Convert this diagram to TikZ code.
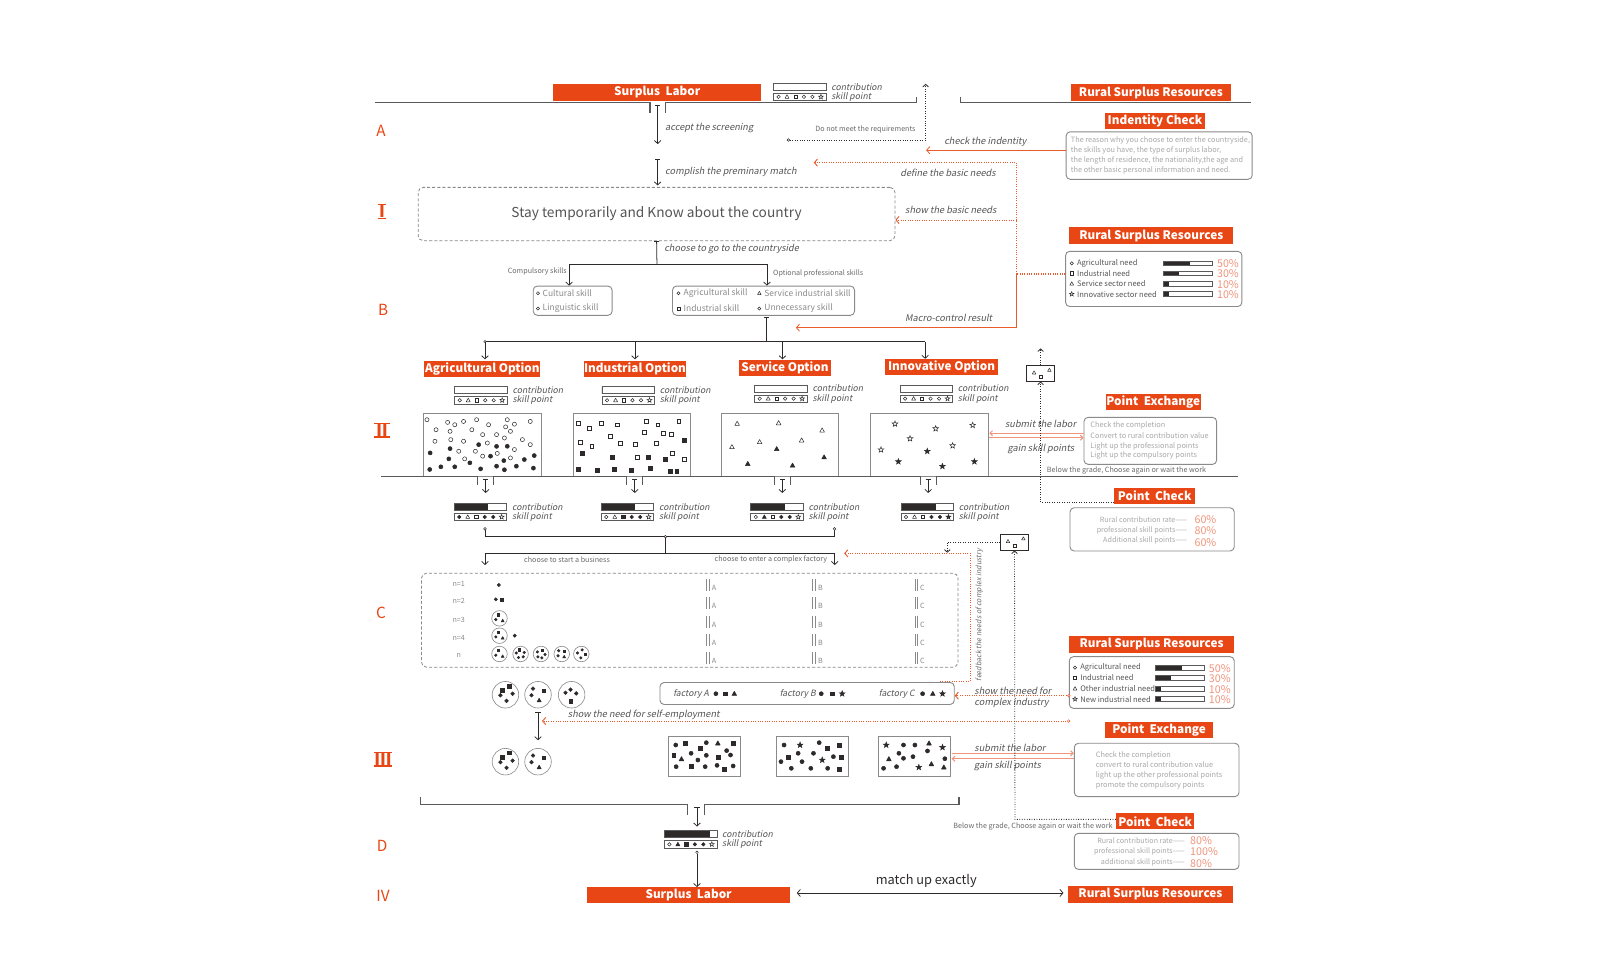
\documentclass[tikz,border=0pt]{standalone}
\usepackage{fontspec}
\setmainfont{Noto Sans CJK SC}[AutoFakeSlant=0.2]
\usetikzlibrary{arrows.meta,shapes.geometric}
\definecolor{orng}{HTML}{E84614}
\definecolor{oline}{HTML}{EA5A2A}
\definecolor{salm}{HTML}{F0957C}
\definecolor{dk}{HTML}{2E2A2A}
\definecolor{lgrey}{HTML}{5A5A5A}
\definecolor{bgrey}{HTML}{8A8A8A}
\definecolor{tmid}{HTML}{555555}
\definecolor{tgrey}{HTML}{A8A8A8}
\definecolor{tdk}{HTML}{6A6A6A}
\definecolor{tskill}{HTML}{8A8A8A}
\colorlet{fw}{white}
\colorlet{fk}{dk}
\newcommand\symr{1.9}
\newcommand\drawsym[4]{%
 \ifcase#1\relax
  \path[draw=dk,fill=#2,line width=0.5pt] (#3,#4) circle ({\symr});
 \or
  \path[draw=dk,fill=#2,line width=0.5pt,line join=round] ({#3-1.15*\symr},{#4+0.85*\symr}) -- ({#3+1.15*\symr},{#4+0.85*\symr}) -- (#3,{#4-1.2*\symr}) -- cycle;
 \or
  \path[draw=dk,fill=#2,line width=0.5pt] ({#3-0.95*\symr},{#4-0.95*\symr}) rectangle ({#3+0.95*\symr},{#4+0.95*\symr});
 \or
  \node[star,star points=5,star point ratio=2.4,inner sep=0pt,minimum size={2.9*\symr},draw=dk,fill=#2,line width=0.5pt] at (#3,#4) {};
 \fi}
\newcommand\legendbox[4]{%
 \fill[dk] (#1,#2) rectangle ++({51.5*#3},6.8);
 \draw[draw=lgrey,line width=0.8pt] (#1,#2) rectangle ++(51.5,6.8);
 \draw[draw=lgrey,line width=0.8pt] (#1,{#2+9.8}) rectangle ++(51.5,7.2);
 \begin{scope}\renewcommand\symr{1.7}
 \foreach \symT/\symF [count=\si] in {#4}{\pgfmathsetmacro\sx{#1+5+(\si-1)*8.3}\pgfmathsetmacro\sy{#2+13.4}\drawsym{\symT}{\symF}{\sx}{\sy}}
 \end{scope}
 \node[lgdt, anchor=west] at ({#1+56.5},{#2+3.4}) {contribution};
 \node[lgdt, anchor=west] at ({#1+56.5},{#2+13.4}) {skill point};
}
\newcommand\needrow[7]{%
 \begin{scope}\renewcommand\symr{1.6}\drawsym{#3}{fw}{#1}{#2}\end{scope}
 \node[needt, anchor=west] at ({#1+5},#2) {#4};
 \fill[dk] (#5,{#2-2.2}) rectangle ++({48*#6},4.4);
 \draw[draw=lgrey,line width=0.6pt] (#5,{#2-2.2}) rectangle ++(48,4.4);
 \node[pct, anchor=west] at ({#5+52},{#2+0.6}) {#7};
}
\newcommand\grp[4]{%
 \draw[bgrey, line width=0.6pt, fill=white] (#1,#2) circle (#3);
 \foreach \symT/\gx/\gy in {#4}{\pgfmathsetmacro\px{#1+\gx}\pgfmathsetmacro\py{#2+\gy}\drawsym{\symT}{fk}{\px}{\py}}}
\tikzset{
 olab/.style={fill=orng, text=white, font=\bfseries\fontsize{11.5}{12}\selectfont, inner sep=0pt},
 mline/.style={draw=lgrey, line width=1.3pt},
 kline/.style={draw=dk, line width=0.75pt},
 karr/.style={kline, -{Straight Barb[length=3pt,width=6.5pt]}},
 tarr/.style={kline, {Bar[width=5pt]}-{Straight Barb[length=3pt,width=6.5pt]}},
 kdot/.style={draw=dk, line width=0.8pt, dash pattern=on 0.8pt off 1.6pt, -{Straight Barb[length=2.5pt,width=5.5pt]}},
 odot/.style={draw=oline, line width=0.9pt, dash pattern=on 0.9pt off 1.4pt},
 oarrtip/.style={-{Straight Barb[length=3pt,width=7pt]}},
 oarr/.style={draw=oline, line width=0.8pt, -{Straight Barb[length=3pt,width=7pt]}},
 sarr/.style={draw=salm, line width=1pt, -{Straight Barb[length=2.5pt,width=5pt]}},
 ital/.style={font=\itshape\fontsize{9}{10}\selectfont, text=tmid, inner sep=0pt},
 lgdt/.style={font=\itshape\fontsize{8.5}{9}\selectfont, text=tmid, inner sep=0pt},
 smalltxt/.style={font=\fontsize{7}{8}\selectfont, text=tdk, inner sep=0pt},
 boxt/.style={font=\fontsize{7.2}{8}\selectfont, text=tgrey, inner sep=0pt},
 needt/.style={font=\fontsize{7.4}{8}\selectfont, text=tmid, inner sep=0pt},
 skillt/.style={font=\fontsize{8.3}{9}\selectfont, text=tskill, inner sep=0pt},
 pct/.style={font=\fontsize{10.5}{11}\selectfont, text=salm, inner sep=0pt},
 gboxn/.style={draw=bgrey, line width=0.9pt, rounded corners=4pt, inner sep=0pt},
 sqbox/.style={draw=bgrey, line width=0.9pt},
 dashbox/.style={draw=bgrey, line width=0.8pt, dash pattern=on 3pt off 2pt, rounded corners=5pt, inner sep=0pt},
 roman/.style={text=orng, font=\fontsize{15}{16}\selectfont, inner sep=0pt},
 romanb/.style={text=orng, font=\bfseries\fontsize{16}{17}\selectfont, inner sep=0pt},
 rbar/.style={draw=orng, line width=1.3pt},
 tinytxt/.style={font=\fontsize{7}{8}\selectfont, text=bgrey, inner sep=0pt},
}
\begin{document}
\begin{tikzpicture}[x=1pt,y=-1pt]
\useasboundingbox[fill=white] (0,0) rectangle (1568,942);

% ---------- left letters ----------
\node[roman] (lA) at (373,128) {A};
\node[romanb] (lI) at (374,207) {Ⅰ};
\draw[rbar] (370,200.4) -- (378,200.4) (370,213.6) -- (378,213.6);
\node[roman] (lB) at (375,303) {B};
\node[romanb] (lII) at (374,421) {Ⅱ};
\draw[rbar] (366.5,414.4) -- (381.5,414.4) (366.5,427.6) -- (381.5,427.6);
\node[roman] (lC) at (373,600) {C};
\node[romanb] (lIII) at (375,743) {Ⅲ};
\draw[rbar] (366.5,736.4) -- (383.5,736.4) (366.5,749.6) -- (383.5,749.6);
\node[roman] (lD) at (374,828) {D};
\node[roman] (lIV) at (375,877) {IV};

% ---------- top ----------
\node[olab, minimum width=203.5, minimum height=16.3] (SL) at (643.3,90.3) {Surplus\ \ Labor};
\legendbox{757}{81.4}{0}{0/fw,1/fw,2/fw,0/fw,0/fw,3/fw}
\draw[mline] (367.3,100.5) -- (636.2,100.5) -- (636.2,110.9);
\draw[mline] (651.2,110.9) -- (651.2,100.5) -- (897,100.5) -- (897,94.5);
\draw[mline] (940,94.5) -- (940,100.5) -- (1224,100.5);
\draw[tarr] (643.7,103) -- (643.7,141);
\node[ital,anchor=west] at (650.9,125.6) {accept the screening};
\draw[tarr] (643.7,156) -- (643.7,181.5);
\node[ital,anchor=west] at (650.9,168.7) {complish the preminary match};
\coordinate (dn1) at (773,137);
\draw[kdot] (dn1) -- (906,137) -- (906,82);
\draw[dk, line width=0.5pt, fill=white] (771.6,137) circle (1.3);
\node[smalltxt, anchor=east] at (896.3,127.2) {Do not meet the requirements};

\node[olab, minimum width=157, minimum height=16.5] (RSR1) at (1126.5,90.8) {Rural Surplus Resources};
\node[olab, minimum width=98, minimum height=15.6] (IC) at (1130.5,118.8) {Indentity Check};
\node[gboxn, minimum width=182.1, minimum height=46.5] (ICb) at (1134.55,152.25) {};
\node[boxt, anchor=west, font=\fontsize{7.15}{8}\selectfont] at (1048,137.7) {The reason why you choose to enter the countryside,};
\node[boxt, anchor=west, font=\fontsize{7.15}{8}\selectfont] at (1048,147.5) {the skills you have, the type of surplus labor,};
\node[boxt, anchor=west, font=\fontsize{7.15}{8}\selectfont] at (1048,157.3) {the length of residence, the nationality,the age and};
\node[boxt, anchor=west, font=\fontsize{7.15}{8}\selectfont] at (1048,167) {the other basic personal information and need.};
\draw[oarr] (ICb.west |- 0,147) -- (906.5,147);
\node[ital,anchor=west] at (924,139.3) {check the indentity};

\node[dashbox, minimum width=466.7, minimum height=52.2, font=\fontsize{13.4}{16}\selectfont, text=tmid] (stay) at (642.65,209.5) {Stay temporarily and Know about the country};

\node[olab, minimum width=160.5, minimum height=16.3] (RSR2) at (1126.8,230.7) {Rural Surplus Resources};
\node[gboxn, minimum width=172.5, minimum height=54] (need1) at (1129.25,273) {};
\needrow{1049}{257.7}{0}{Agricultural need}{1139}{0.53}{50\%}
\needrow{1049}{267.5}{2}{Industrial need}{1139}{0.32}{30\%}
\needrow{1049}{277.7}{1}{Service sector need}{1139}{0.10}{10\%}
\needrow{1049}{287.8}{3}{Innovative sector need}{1139}{0.10}{10\%}

\coordinate (oj) at (995.1,268.2);
\draw[odot, oarrtip] (oj) -- (995.1,159.2) -- (796.5,159.2);
\node[ital,anchor=west] at (881,169) {define the basic needs};
\draw[odot, oarrtip] (995.1,215.3) -- (stay.east |- 0,215.3);
\node[ital,anchor=west] at (885.8,205.5) {show the basic needs};
\draw[odot, line width=1.6pt] (need1.west |- oj) -- (oj);
\draw[oarr] (oj) -- (995.1,320.7) -- (779,320.7);
\node[ital,anchor=west] at (885.8,311.6) {Macro-control result};

% ---------- B ----------
\draw[kline, {Bar[width=5pt]}-] (stay.south) -- (643,258.4);
\node[ital,anchor=west] at (650,244) {choose to go to the countryside};
\draw[kline] (557,258.4) -- (750.7,258.4);
\node[gboxn, minimum width=77.2, minimum height=28.6] (cs) at (560.5,294.3) {};
\node[gboxn, minimum width=178.2, minimum height=28.6] (ps) at (747.3,294.3) {};
\draw[karr] (557,258.4) -- (cs.north -| 557,0);
\draw[karr] (750.7,258.4) -- (ps.north -| 750.7,0);
\node[smalltxt, anchor=east] at (555,266) {Compulsory\ skills};
\node[smalltxt, anchor=west] at (756.6,267.5) {Optional professional skills};
\begin{scope}\renewcommand\symr{1.5}
\drawsym{0}{fw}{526.5}{287}\drawsym{0}{fw}{526.5}{302}
\drawsym{0}{fw}{664.1}{287}\drawsym{1}{fw}{743.2}{287}
\drawsym{2}{fw}{664.1}{302}\drawsym{0}{fw}{743.2}{302}
\end{scope}
\node[skillt, anchor=west] at (531,287) {Cultural skill};
\node[skillt, anchor=west] at (531,302) {Linguistic skill};
\node[skillt, anchor=west] at (669,287) {Agricultural skill};
\node[skillt, anchor=west] at (748,287) {Service industrial skill};
\node[skillt, anchor=west] at (669,302) {Industrial skill};
\node[skillt, anchor=west] at (748,302) {Unnecessary skill};
\draw[kline, {Bar[width=5pt]}-] (750.1,310) -- (750.1,334.4);
\draw[kline] (474.7,334.4) -- (905.5,334.4);
\draw[dk, line width=0.5pt, fill=white] (474.7,334.4) circle (1.2);

\node[olab, minimum width=113.6, minimum height=15.4] (opA) at (472.1,361) {Agricultural Option};
\node[olab, minimum width=99.2, minimum height=15.4] (opI) at (621.5,361) {Industrial Option};
\node[olab, minimum width=89.4, minimum height=15.4] (opS) at (768.3,360) {Service Option};
\node[olab, minimum width=110.9, minimum height=15.4] (opN) at (921.6,359.4) {Innovative Option};
\draw[karr] (474.7,334.4) -- (474.7,351.7);
\draw[karr] (621.5,334.4) -- (621.5,351.7);
\draw[karr] (765.9,334.4) -- (765.9,351.7);
\draw[karr] (905.5,334.4) -- (905.5,351.2);

% ---------- II ----------
\legendbox{445}{378.4}{0}{0/fw,1/fw,2/fw,0/fw,0/fw,3/fw}
\legendbox{589.2}{378.4}{0}{0/fw,1/fw,2/fw,0/fw,0/fw,3/fw}
\legendbox{738.6}{376.8}{0}{0/fw,1/fw,2/fw,0/fw,0/fw,3/fw}
\legendbox{880.9}{376.8}{0}{0/fw,1/fw,2/fw,0/fw,0/fw,3/fw}

\draw[sqbox] (414,405) rectangle (530,466.5);
\draw[sqbox] (561,405) rectangle (676,466.5);
\draw[sqbox] (706,405) rectangle (821,466.5);
\draw[sqbox] (852,404.5) rectangle (967,466.5);
\begin{scope}\renewcommand\symr{2}
\foreach \x/\y in {417.9/410.8, 426.8/420.6, 438.1/413.4, 445.1/415.7, 453.7/412.5, 466.5/410.8, 478.2/415.7, 496.5/410.8, 494.9/417.8, 503.5/415.2, 519.0/412.5, 440.5/422.2, 461.8/420.6, 425.7/431.9, 441.2/430.3, 453.7/431.9, 472.4/425.4, 486.0/425.4, 499.6/422.2, 511.3/430.3, 519.0/435.2, 477.0/433.6, 449.0/441.7, 465.3/441.7, 486.7/443.8, 503.5/440.0, 472.4/446.5, 454.8/449.1, 499.6/448.2, 493.7/428.7}{\drawsym{0}{fw}{\x}{\y}}
\foreach \x/\y in {468.5/435.2, 486.0/436.9, 496.5/436.8, 440.5/439.1, 421.0/443.3, 439.3/449.1, 480.1/446.5, 493.1/450.8, 513.2/449.8, 522.9/445.9, 420.6/459.5, 431.5/456.9, 445.1/456.9, 459.9/453.0, 470.4/458.9, 486.0/456.3, 493.7/459.8, 505.4/456.3, 522.1/458.2}{\drawsym{0}{fk}{\x}{\y}}
\foreach \x/\y in {565.6/414.1, 576.5/419.0, 588.1/414.1, 604.4/415.7, 632.2/412.5, 643.8/415.7, 664.3/412.5, 630.7/422.8, 648.8/423.8, 657.4/425.4, 597.4/427.1, 607.4/433.6, 621.8/435.2, 642.3/433.6, 568.0/432.6, 579.2/436.8, 623.7/447.2, 657.7/443.9, 670.1/449.1}{\drawsym{2}{fw}{\x}{\y}}
\foreach \x/\y in {669.4/431.0, 569.5/443.9, 599.3/447.5, 634.1/447.2, 650.8/449.1, 566.4/458.9, 584.2/460.2, 601.2/458.9, 617.5/460.2, 636.1/458.5, 656.2/461.6, 662.4/461.6}{\drawsym{2}{fk}{\x}{\y}}
\foreach \x/\y in {721.5/414.7, 762.1/414.1, 804.7/421.2, 743.5/432.6, 784.6/431.0, 716.4/437.5}{\drawsym{1}{fw}{\x}{\y}}
\foreach \x/\y in {760.2/439.4, 806.6/447.5, 731.9/454.0, 775.7/455.6}{\drawsym{1}{fk}{\x}{\y}}
\foreach \x/\y in {876.0/414.9, 915.8/419.5, 952.0/416.2, 890.7/429.3, 932.4/436.2, 862.3/440.2}{\drawsym{3}{fw}{\x}{\y}}
\foreach \x/\y in {907.6/441.7, 879.3/451.8, 922.4/456.4, 953.7/451.8}{\drawsym{3}{fk}{\x}{\y}}
\end{scope}

\draw[mline] (373,466.5) -- (467.6,466.5) -- (467.6,474.7);
\draw[mline] (483.2,474.7) -- (483.2,466.5) -- (613.5,466.5) -- (613.5,474.7);
\draw[mline] (629.1,474.7) -- (629.1,466.5) -- (757.9,466.5) -- (757.9,474.7);
\draw[mline] (773.5,474.7) -- (773.5,466.5) -- (900.7,466.5) -- (900.7,474.7);
\draw[mline] (916.3,474.7) -- (916.3,466.5) -- (1212,466.5);
\foreach \xx in {475.4,621.3,765.7,908.5}{\draw[tarr] (\xx,468.5) -- (\xx,482.5);}

\legendbox{444.5}{492.6}{0.65}{0/fk,1/fw,2/fw,0/fk,0/fk,3/fw}
\legendbox{588.4}{492.6}{0.64}{0/fw,1/fw,2/fk,0/fk,0/fk,3/fw}
\legendbox{734.8}{492.6}{0.65}{0/fw,1/fk,2/fw,0/fk,0/fk,3/fw}
\legendbox{881.8}{492.6}{0.66}{0/fw,1/fw,2/fw,0/fk,0/fk,3/fk}

% right side of II
\node[draw=dk, line width=0.9pt, minimum width=27, minimum height=15, inner sep=0pt] (sb1) at (1018.5,365.5) {};
\begin{scope}\renewcommand\symr{1.5}
\drawsym{1}{fw}{1012.1}{364.8}\drawsym{2}{fw}{1018.7}{368.8}\drawsym{1}{fw}{1027.1}{362.2}
\end{scope}
\draw[kdot] (sb1.north) -- (1018.5,341);
\node[olab, minimum width=93.5, minimum height=15.3] (PE1) at (1128.8,393.7) {Point\ \ Exchange};
\node[gboxn, minimum width=129.8, minimum height=46] (PE1b) at (1125.9,431.5) {};
\node[boxt, anchor=west] at (1067,416.6) {Check the completion};
\node[boxt, anchor=west] at (1067,426.4) {Convert to rural contribution value};
\node[boxt, anchor=west] at (1067,436.5) {Light up the professional points};
\node[boxt, anchor=west] at (1067,446.3) {Light up the compulsory points};
\draw[sarr] (PE1b.west |- 0,424) -- (968.3,424);
\draw[sarr] (968.3,428.4) -- (PE1b.west |- 0,428.4);
\node[ital, anchor=west] at (983.6,415) {submit the labor};
\node[ital, anchor=west] at (986,439.8) {gain skill points};
\node[smalltxt, anchor=west, font=\fontsize{7.05}{8}\selectfont] at (1024.5,460.3) {Below the grade, Choose again or wait the work};
\node[olab, minimum width=79, minimum height=16] (PC1) at (1130.1,485.3) {Point\ \ Check};
\node[gboxn, minimum width=160.7, minimum height=42.3] (PC1b) at (1127.65,518.15) {};
\node[boxt, anchor=east, font=\fontsize{7}{8}\selectfont] at (1162.4,508.3) {Rural contribution rate——};
\node[boxt, anchor=east, font=\fontsize{7}{8}\selectfont] at (1162.4,518.8) {professional skill points——};
\node[boxt, anchor=east, font=\fontsize{7}{8}\selectfont] at (1162.4,528.8) {Additional skill points——};
\node[pct, anchor=west] at (1169,508.3) {60\%};
\node[pct, anchor=west] at (1169,519.3) {80\%};
\node[pct, anchor=west] at (1169,531) {60\%};
\draw[kdot] (PC1.west |- 0,491.7) -- (1018.5,491.7) -- (sb1.south);

% ---------- lower branch ----------
\draw[kline] (474.7,519) -- (474.7,525.3) -- (816.8,525.3) -- (816.8,519);
\draw[dk, line width=0.5pt, fill=white] (474.7,517.6) circle (1.3);
\draw[dk, line width=0.5pt, fill=white] (816.8,517.6) circle (1.3);
\draw[kline] (651.3,525.3) -- (651.3,541.6);
\draw[dk, line width=0.5pt, fill=white] (651.3,525.3) circle (1.3);
\draw[kline] (474.7,541.6) -- (817,541.6);
\draw[karr] (474.7,541.6) -- (474.7,553);
\draw[karr] (817,541.6) -- (817,553);
\node[smalltxt, anchor=west] at (512.9,548) {choose to start a business};
\node[smalltxt, anchor=east] at (809.7,548) {choose to enter a complex factory};

% ---------- C ----------
\node[dashbox, minimum width=525.2, minimum height=92] (Cbox) at (675.1,607) {};
\node[tinytxt] at (449,571.5) {n=1};
\node[tinytxt] at (449,588.5) {n=2};
\node[tinytxt] at (449,606.5) {n=3};
\node[tinytxt] at (449,624) {n=4};
\node[tinytxt] at (449,641.5) {n};
\begin{scope}\renewcommand\symr{1.6}
\drawsym{0}{fk}{488.2}{572.6}
\drawsym{0}{fk}{485.3}{586.6}\drawsym{2}{fk}{491}{586.6}
\drawsym{0}{fk}{503.8}{622.2}
\end{scope}
\begin{scope}\renewcommand\symr{1.25}
\grp{488.9}{605.2}{7.6}{2/-1.4/-3.6, 0/-3.6/1.2, 1/3.1/2.3}
\grp{488.9}{622.2}{7.6}{2/-1.4/-3.6, 0/-3.6/1.2, 1/3.1/2.3}
\grp{488.9}{640.1}{7.6}{2/-1.4/-3.6, 0/-3.6/1.2, 1/3.1/2.3}
\grp{509.5}{640.1}{7.6}{2/-1.4/-4, 0/-4.2/-1, 0/3.6/-1.5, 0/-2/3.5, 0/2.6/2.8}
\grp{529.5}{640.1}{7.6}{0/-3.5/-2, 2/1.5/-3.8, 0/4/0.5, 0/-3/2.8, 0/0.8/3.8}
\grp{549.8}{640.1}{7.6}{0/-3/-3.2, 2/2.4/-2.8, 0/-3.6/1.8, 1/2.4/2.8}
\grp{569}{640.1}{7.6}{0/-3.8/-1, 0/0.8/-4, 2/3.8/0.2, 0/-0.5/3.8}
\end{scope}
\foreach \yy in {572.6,590.5,608.5,626.4,644.3}{
 \draw[bgrey, line width=0.7pt] (691.5,{\yy-6}) -- (691.5,{\yy+6}) (694.2,{\yy-6}) -- (694.2,{\yy+6});
 \node[tinytxt, anchor=west] at (696.5,{\yy+3}) {A};
 \draw[bgrey, line width=0.7pt] (795.5,{\yy-6}) -- (795.5,{\yy+6}) (798.2,{\yy-6}) -- (798.2,{\yy+6});
 \node[tinytxt, anchor=west] at (800.5,{\yy+3}) {B};
 \draw[bgrey, line width=0.7pt] (895.5,{\yy-6}) -- (895.5,{\yy+6}) (898.2,{\yy-6}) -- (898.2,{\yy+6});
 \node[tinytxt, anchor=west] at (900.5,{\yy+3}) {C};
}

% factory row
\node[gboxn, minimum width=288, minimum height=21.5] (fac) at (790,678.75) {};
\node[ital, anchor=west, font=\itshape\fontsize{8.5}{9}\selectfont] at (658.8,679) {factory A};
\node[ital, anchor=west, font=\itshape\fontsize{8.5}{9}\selectfont] at (763,679) {factory B};
\node[ital, anchor=west, font=\itshape\fontsize{8.5}{9}\selectfont] at (860,679) {factory C};
\begin{scope}\renewcommand\symr{2}
\drawsym{0}{fk}{700.7}{679}\drawsym{2}{fk}{710}{679}\drawsym{1}{fk}{718.7}{679}
\drawsym{0}{fk}{803.8}{679}\drawsym{2}{fk}{814.2}{679}\drawsym{3}{fk}{824.3}{679}
\drawsym{0}{fk}{903}{679}\drawsym{1}{fk}{913}{679}\drawsym{3}{fk}{922.5}{679}
\end{scope}

% feedback
\draw[odot, oarrtip] (920,667) -- (949.4,667) -- (949.4,541.6) -- (826.3,541.6);
\node[ital, font=\itshape\fontsize{7}{8}\selectfont, text=tdk, rotate=90] at (958.5,602) {feedback the needs of complex industry};
\node[draw=dk, line width=0.9pt, minimum width=27, minimum height=15.6, inner sep=0pt] (sb2) at (993,530.5) {};
\begin{scope}\renewcommand\symr{1.5}
\drawsym{1}{fw}{986.6}{529.8}\drawsym{2}{fw}{993.2}{533.8}\drawsym{1}{fw}{1001.6}{527.2}
\end{scope}
\draw[kdot] (sb2.west) -- (927.2,530.5) -- (927.2,541);

\node[olab, minimum width=161.2, minimum height=16.6] (RSR3) at (1127.2,630.5) {Rural Surplus Resources};
\node[gboxn, minimum width=161.4, minimum height=50.6] (need2) at (1127.3,668) {};
\needrow{1052.2}{653.5}{0}{Agricultural need}{1131.1}{0.54}{50\%}
\needrow{1052.2}{663.6}{2}{Industrial need}{1131.1}{0.32}{30\%}
\needrow{1052.2}{674}{1}{Other industrial need}{1131.1}{0.10}{10\%}
\needrow{1052.2}{684.2}{3}{New industrial need}{1131.1}{0.10}{10\%}
\draw[odot, oarrtip] (need2.west |- 0,680.9) -- (fac.east |- 0,680.9);
\draw[oline, line width=0.5pt, fill=white] (need2.west |- 0,680.9) circle (1.3);
\node[ital, anchor=west] at (953.6,676.3) {show the need for};
\node[ital, anchor=west] at (953.6,687.8) {complex industry};

% circles below C
\begin{scope}\renewcommand\symr{1.8}
\grp{494.7}{680}{13}{2/3.7/-8.5, 2/-3/-4.5, 0/-4.9/0.5, 0/7/-1, 0/1.1/6}
\grp{526.6}{680}{13}{0/-4.9/-6, 2/5.6/-3.9, 0/-6.4/0.5, 1/1.1/5.5}
\grp{559.5}{680}{13}{0/-6/-2, 0/-1.1/-5, 0/4.5/-1.3, 2/-1.1/6.5}
\grp{494.7}{745.5}{13}{2/3.7/-8.5, 2/-3/-4.5, 0/-4.9/0.5, 0/7/-1, 0/1.1/6}
\grp{526.6}{745.5}{13}{0/-4.9/-6, 2/5.6/-3.9, 0/-6.4/0.5, 1/1.1/5.5}
\end{scope}
\draw[tarr] (526.6,696.5) -- (526.6,724.5);
\node[ital, anchor=west] at (555.7,699.8) {show the need for self-employment};
\draw[odot, oarrtip] (1046,705.7) -- (530.5,705.7);
\draw[oline, line width=0.5pt, fill=white] (1046,705.7) circle (1.3);

% ---------- III ----------
\draw[sqbox] (654,721) rectangle (725,759.5);
\draw[sqbox] (759.5,721) rectangle (830,759.5);
\draw[sqbox] (860,721) rectangle (930,759.5);
\begin{scope}\renewcommand\symr{2}
\foreach \t/\x/\y in {0/661.4/729.2, 2/670.7/727.5, 0/691.3/726.9, 1/702.6/727.5, 2/717.6/727.5, 2/685.7/732.4, 0/676.4/737.3, 0/711.2/734.7, 2/659.5/739.0, 1/667.0/742.9, 0/683.1/743.9, 0/691.3/739.3, 2/702.6/741.2, 0/715.0/739.0, 0/661.8/750.4, 2/676.4/749.7, 0/690.2/750.4, 0/701.8/749.1, 2/709.0/752.7, 0/717.6/749.7,
 0/767.4/729.2, 3/783.1/729.2, 0/801.8/726.9, 2/810.1/732.4, 2/821.7/729.2, 0/781.2/737.3, 0/796.2/737.3, 2/771.9/741.2, 0/764.4/745.5, 0/785.0/745.5, 3/804.8/743.9, 0/815.7/740.6, 2/823.2/741.2, 0/774.5/752.0, 0/793.6/752.0, 0/810.1/752.0, 2/821.7/752.7,
 3/867.4/729.2, 0/884.3/729.2, 0/895.5/729.2, 1/909.3/727.5, 3/922.5/731.5, 0/879.8/737.3, 0/907.8/735.0, 1/870.0/742.9, 0/884.3/742.2, 0/893.6/740.6, 0/924.8/742.6, 0/864.8/752.0, 0/877.5/750.4, 3/899.3/751.0, 1/911.6/747.8, 1/923.8/751.0}{\drawsym{\t}{fk}{\x}{\y}}
\end{scope}
\node[olab, minimum width=106, minimum height=16.3] (PE2) at (1134.5,714.5) {Point\ \ Exchange};
\node[gboxn, minimum width=161.2, minimum height=52.2] (PE2b) at (1132.1,753.6) {};
\node[boxt, anchor=west] at (1072.4,739) {Check the completion};
\node[boxt, anchor=west] at (1072.4,748.7) {convert to rural contribution value};
\node[boxt, anchor=west] at (1072.4,758.8) {light up the other professional points};
\node[boxt, anchor=west] at (1072.4,769) {promote the compulsory points};
\draw[sarr] (931.5,737.3) -- (PE2b.west |- 0,737.3);
\draw[sarr] (PE2b.west |- 0,742.6) -- (931.5,742.6);
\node[ital, anchor=west] at (953.6,732.4) {submit the labor};
\node[ital, anchor=west] at (953.3,750) {gain skill points};

% bracket
\draw[mline] (411.6,780) -- (411.6,787.5) -- (672.6,787.5) -- (672.6,797.7);
\draw[mline] (689.5,797.7) -- (689.5,787.5) -- (938.6,787.5) -- (938.6,780);
\draw[tarr] (682.2,789.5) -- (682.2,809);

\node[smalltxt, anchor=west, font=\fontsize{7.05}{8}\selectfont] at (933,808.5) {Below the grade, Choose again or wait the work};
\node[olab, minimum width=76.7, minimum height=15.7] (PC2) at (1130.7,803.8) {Point\ \ Check};
\node[gboxn, minimum width=161.2, minimum height=35.3] (PC2b) at (1132.1,833.25) {};
\node[boxt, anchor=east, font=\fontsize{7}{8}\selectfont] at (1159.8,822.8) {Rural contribution rate——};
\node[boxt, anchor=east, font=\fontsize{7}{8}\selectfont] at (1159.8,833.6) {professional skill points——};
\node[boxt, anchor=east, font=\fontsize{7}{8}\selectfont] at (1159.8,843.7) {additional skill points——};
\node[pct, anchor=west] at (1164.7,822.3) {80\%};
\node[pct, anchor=west] at (1164.7,833.8) {100\%};
\node[pct, anchor=west] at (1164.7,845.7) {80\%};
\draw[kdot] (PC2.west |- 0,802) -- (993.4,802) -- (sb2.south);

% ---------- D / IV ----------
\legendbox{650.2}{813}{0.87}{0/fw,1/fk,2/fk,0/fk,0/fk,3/fw}
\draw[dk, line width=0.5pt, fill=white] (682.2,834.2) circle (1.3);
\node[olab, minimum width=199.4, minimum height=15.7] (SL2) at (674,876.3) {Surplus\ \ Labor};
\node[olab, minimum width=160.9, minimum height=16.3] (RSR4) at (1126,875.3) {Rural Surplus Resources};
\draw[karr] (682.2,835.5) -- (SL2.north -| 682.2,0);
\draw[kline, {Straight Barb[length=3pt,width=7pt]}-{Straight Barb[length=3pt,width=7pt]}] ([xshift=6pt]SL2.east |- 0,874) -- ([xshift=-4.5pt]RSR4.west |- 0,874);
\node[text=dk, font=\fontsize{12.5}{13}\selectfont, inner sep=0pt] (mue) at (906.6,862.5) {match up exactly};
\end{tikzpicture}
\end{document}
